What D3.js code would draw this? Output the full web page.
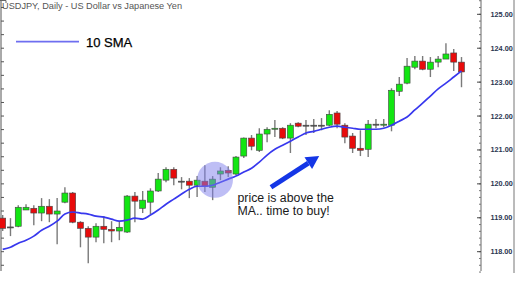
<!DOCTYPE html>
<html>
<head>
<meta charset="utf-8">
<script src="https://cdn.jsdelivr.net/npm/d3@7.9.0/dist/d3.min.js"></script>
<style>
  body { margin: 0; background: #fff; }
  svg { display: block; font-family: 'Liberation Sans', Arial, sans-serif; }
</style>
</head>
<body>
<svg id="chart" width="518" height="291"></svg>
<script>
// USDJPY daily candles
const open = [118.99, 118.73, 118.75, 119.23, 119.28, 119.14, 119.34, 119.11, 119.46, 119.73,
  118.87, 118.69, 118.43, 118.75, 118.66, 118.61, 118.58, 119.64, 119.28, 119.46,
  119.79, 120.11, 120.43, 120.08, 120.08, 119.96, 120.08, 119.90, 120.29, 120.40,
  120.29, 120.82, 121.35, 120.99, 121.47, 121.61, 121.64, 121.35, 121.79, 121.73,
  121.73, 121.73, 121.73, 122.09, 121.73, 121.41, 121.05, 121.02, 121.76, 121.73,
  121.73, 122.73, 122.97, 123.44, 123.62, 123.38, 123.59, 123.68, 123.86, 123.59];
const high = [119.08, 118.99, 119.37, 119.40, 119.37, 119.58, 119.55, 119.58, 119.90, 119.76,
  118.90, 118.75, 118.84, 119.05, 118.90, 118.90, 119.67, 119.76, 119.79, 119.87,
  120.32, 120.49, 120.49, 120.20, 120.17, 120.23, 120.55, 120.23, 120.49, 120.52,
  120.82, 121.37, 121.44, 121.64, 121.67, 121.88, 121.67, 121.79, 121.82, 121.88,
  121.91, 121.94, 122.17, 122.15, 121.79, 121.50, 121.58, 121.88, 121.91, 121.91,
  122.82, 123.15, 123.71, 123.77, 123.77, 123.74, 123.77, 124.15, 123.98, 123.74];
const low = [118.61, 118.46, 118.72, 119.23, 118.78, 118.90, 118.87, 118.22, 119.43, 118.84,
  118.13, 117.66, 118.28, 118.25, 118.28, 118.34, 118.55, 118.87, 119.14, 119.11,
  119.76, 120.05, 119.96, 119.84, 119.58, 119.61, 119.76, 119.52, 120.11, 120.20,
  120.26, 120.76, 120.99, 120.94, 121.23, 121.38, 121.32, 120.91, 121.67, 121.44,
  121.50, 121.58, 121.70, 121.64, 121.20, 120.91, 120.82, 120.79, 121.64, 121.67,
  121.55, 122.59, 122.94, 123.38, 123.35, 123.15, 123.44, 123.68, 123.33, 122.85];
const close = [118.69, 118.71, 119.31, 119.31, 119.14, 119.34, 119.11, 119.20, 119.73, 118.87,
  118.69, 118.43, 118.75, 118.66, 118.61, 118.72, 119.64, 119.49, 119.52, 119.79,
  120.14, 120.43, 120.17, 120.06, 119.96, 120.11, 119.93, 120.14, 120.38, 120.32,
  120.79, 121.35, 121.11, 121.47, 121.61, 121.64, 121.35, 121.73, 121.70, 121.72,
  121.72, 121.72, 122.05, 121.76, 121.38, 121.05, 120.99, 121.76, 121.75, 121.76,
  122.76, 122.94, 123.47, 123.62, 123.38, 123.59, 123.68, 123.83, 123.59, 123.30];
const sma10 = [118.07, 118.13, 118.25, 118.34, 118.46, 118.63, 118.75, 118.90, 119.11, 119.17,
  119.14, 119.11, 119.05, 119.02, 118.96, 118.90, 118.93, 118.99, 118.96, 119.08,
  119.23, 119.40, 119.55, 119.70, 119.84, 119.93, 119.93, 119.96, 120.05, 120.14,
  120.23, 120.35, 120.46, 120.64, 120.85, 121.02, 121.14, 121.26, 121.38, 121.50,
  121.55, 121.61, 121.67, 121.70, 121.67, 121.64, 121.61, 121.61, 121.61, 121.64,
  121.73, 121.85, 121.97, 122.18, 122.38, 122.59, 122.80, 122.97, 123.15, 123.33];
const priceTicks = [118, 119, 120, 121, 122, 123, 124, 125];

const title = 'USDJPY, Daily - US Dollar vs Japanese Yen';
const legendLabel = '10 SMA';
const note = ['price is above the', 'MA.. time to buy!'];

const candles = open.map((o, i) => ({ i, o, h: high[i], l: low[i], c: close[i] }));

const svg = d3.select('#chart');
const W = 518, H = 291;
const plotBottom = 271, axisX = 481;

svg.append('rect').attr('width', W).attr('height', H).attr('fill', '#fff');

const x = d3.scaleLinear().domain([0, candles.length - 1]).range([2.7, 461.5]);
const y = d3.scaleLinear().domain([118, 125]).range([251.7, 14.3]);

// left edge ticks
const left = svg.append('g');
left.append('line').attr('x1', 1).attr('x2', 1).attr('y1', 0).attr('y2', plotBottom)
  .attr('stroke', '#555').attr('stroke-width', 1);
left.selectAll('line.t').data(d3.range(117.6, 125.81, 0.4)).join('line').attr('class', 't')
  .attr('x1', 1).attr('x2', 4).attr('y1', d => y(d)).attr('y2', d => y(d))
  .attr('stroke', '#555');

// right price axis
const right = svg.append('g');
right.append('line').attr('x1', axisX).attr('x2', axisX).attr('y1', 0).attr('y2', plotBottom)
  .attr('stroke', '#666');
right.append('line').attr('x1', 514).attr('x2', 514).attr('y1', 0).attr('y2', 273)
  .attr('stroke', '#777');
right.selectAll('line.minor').data(d3.range(117.4, 125.81, 0.2)).join('line').attr('class', 'minor')
  .attr('x1', axisX - 2).attr('x2', axisX).attr('y1', d => y(d)).attr('y2', d => y(d))
  .attr('stroke', '#777');
right.selectAll('line.major').data(priceTicks).join('line').attr('class', 'major')
  .attr('x1', axisX - 4).attr('x2', axisX).attr('y1', d => y(d)).attr('y2', d => y(d))
  .attr('stroke', '#444');
right.selectAll('text').data(priceTicks).join('text')
  .attr('x', 490.5).attr('y', d => y(d) + 2.5)
  .attr('font-size', 7.3).attr('font-weight', 'bold').attr('fill', '#2b3550')
  .text(d => d.toFixed(2));

// title
svg.append('text').attr('x', 2).attr('y', 9).attr('font-size', 9.2).attr('fill', '#555')
  .text(title);
svg.append('path').attr('d', 'M0,0.5H6V3').attr('fill', 'none').attr('stroke', '#666');

// legend
svg.append('line').attr('x1', 16).attr('x2', 79).attr('y1', 41.7).attr('y2', 41.7)
  .attr('stroke', '#6e6ef0').attr('stroke-width', 1.8);
svg.append('text').attr('x', 86).attr('y', 47.3).attr('font-size', 13).attr('fill', '#000')
  .attr('stroke', '#000').attr('stroke-width', 0.25)
  .text(legendLabel);

// candles
const bw = 6;
const g = svg.append('g');
g.selectAll('line.wick').data(candles).join('line').attr('class', 'wick')
  .attr('x1', d => x(d.i)).attr('x2', d => x(d.i))
  .attr('y1', d => y(d.h)).attr('y2', d => y(d.l))
  .attr('stroke', '#7a7a7a').attr('stroke-width', 1.4);
g.selectAll('rect').data(candles).join('rect')
  .attr('x', d => x(d.i) - bw / 2)
  .attr('y', d => y(Math.max(d.o, d.c)))
  .attr('width', bw)
  .attr('height', d => Math.max(1, Math.abs(y(d.o) - y(d.c))))
  .attr('fill', d => Math.abs(d.o - d.c) < 0.025 ? '#555' : (d.c > d.o ? '#12e612' : '#e80b0b'))
  .attr('stroke', '#444').attr('stroke-width', 0.6);

// moving average
svg.append('path').datum(sma10)
  .attr('d', d3.line().x((d, i) => x(i)).y(d => y(d)).curve(d3.curveMonotoneX))
  .attr('fill', 'none').attr('stroke', '#3838ee').attr('stroke-width', 1.7);

// highlight circle
svg.append('circle').attr('cx', x(27.3)).attr('cy', y(120.12)).attr('r', 18)
  .attr('fill', 'rgb(125,125,235)').attr('fill-opacity', 0.5);

// arrow
const tail = [x(34.5), y(119.9)], tip = [x(40.7), y(120.82)];
const ang = Math.atan2(tip[1] - tail[1], tip[0] - tail[0]);
const hl = 13, hw = 7;
const base = [tip[0] - hl * Math.cos(ang), tip[1] - hl * Math.sin(ang)];
svg.append('line').attr('x1', tail[0]).attr('y1', tail[1]).attr('x2', base[0]).attr('y2', base[1])
  .attr('stroke', '#1436e6').attr('stroke-width', 5);
svg.append('path').attr('fill', '#1436e6').attr('d', d3.line()([
  tip,
  [base[0] + hw * Math.sin(ang), base[1] - hw * Math.cos(ang)],
  [base[0] - hw * Math.sin(ang), base[1] + hw * Math.cos(ang)]
]) + 'Z');

// annotation
svg.append('text').attr('font-size', 12.3).attr('fill', '#1a1a1a')
  .selectAll('tspan').data(note).join('tspan')
  .attr('x', 237.5).attr('y', (d, i) => 201.5 + i * 13.6)
  .text(d => d);
</script>
</body>
</html>
